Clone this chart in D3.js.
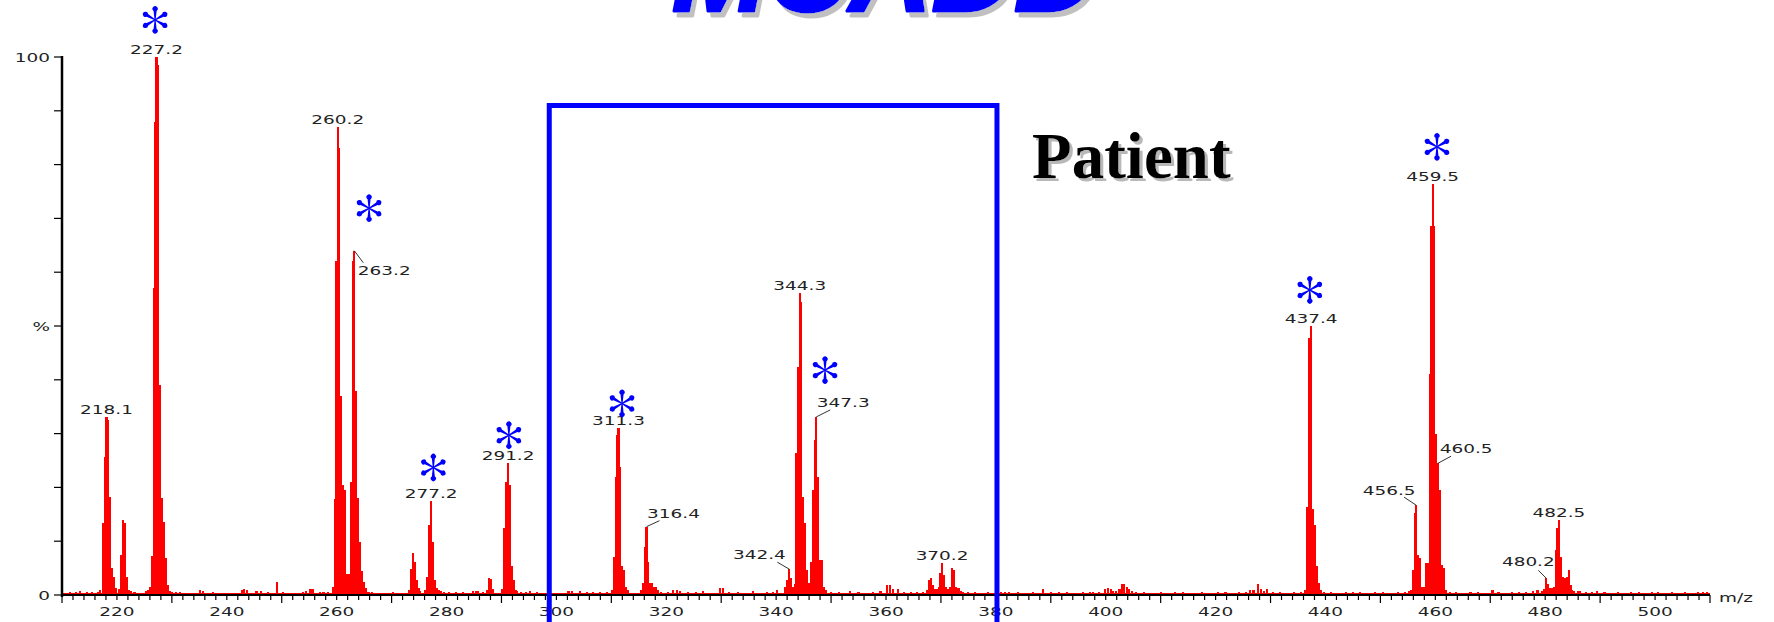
<!DOCTYPE html>
<html>
<head>
<meta charset="utf-8">
<script src="https://cdn.jsdelivr.net/npm/d3@7"></script>
<style>
  html, body { margin: 0; padding: 0; background: #ffffff; }
  svg { display: block; }
</style>
</head>
<body>
<svg id="chart" width="1774" height="622"></svg>
<script>
// ---- Spectrum data: [m/z, relative intensity %] ----
const peak218 = [[217.0,1.0],[217.4,13.4],[217.75,25.7],[218.1,33.0],[218.45,32.5],[218.8,18.3],[219.15,5.0],[219.5,3.4],[219.85,1.3]];
const peak221 = [[220.35,1.2],[220.7,7.4],[221.05,14.0],[221.4,13.4],[221.75,3.4],[222.1,1.0]];
const peak227 = [[225.65,1.0],[226.0,1.5],[226.35,7.2],[226.7,57],[227.0,88],[227.2,100],[227.5,98.5],[227.85,39],[228.2,18],[228.55,13.6],[228.9,6.9],[229.25,1.9],[229.6,0.8]];
const peak260 = [[259.3,1.5],[259.65,17.8],[259.95,62],[260.2,87],[260.5,83],[260.85,37],[261.2,20.4],[261.55,19.5],[261.9,3.9],[262.25,3.9]];
const peak263 = [[262.6,21],[262.9,62],[263.2,64],[263.5,38],[263.85,18],[264.2,9.9],[264.55,4.5],[264.9,2.5],[265.25,1.3]];
const peak274 = [[273.15,1.0],[273.5,4.8],[273.85,7.8],[274.2,6.2],[274.55,2.8],[274.9,1.3],[275.25,0.8]];
const peak277 = [[276.05,1.0],[276.4,3.4],[276.8,13.0],[277.2,17.5],[277.55,9.9],[277.9,2.8],[278.25,1.3],[278.6,1.0],[278.95,0.7]];
const peak288 = [[287.35,1.0],[287.7,3.1],[288.05,3.0],[288.4,1.2]];
const peak291 = [[290.15,1.2],[290.5,12.5],[290.85,21],[291.2,24.6],[291.5,20.4],[291.85,5.3],[292.2,2.8],[292.55,1.0],[292.9,0.8]];
const peak311 = [[310.15,1.0],[310.5,7.1],[310.85,22],[311.1,29.7],[311.3,31],[311.65,23.8],[312.0,5.3],[312.35,4.6],[312.7,1.5],[313.05,1.0]];
const peak316 = [[315.35,1.0],[315.7,2.2],[316.05,9.0],[316.4,12.7],[316.75,6.2],[317.1,2.2],[317.45,2.2],[317.8,1.5],[318.15,1.5],[318.5,1.0]];
const peak344 = [[341.6,1.5],[341.95,2.8],[342.4,4.8],[342.7,3.2],[343.05,1.5],[343.4,2.0],[343.7,26.4],[344.0,42.4],[344.3,56.2],[344.6,54.5],[344.95,18.3],[345.3,13.4],[345.65,4.6],[346.0,2.2]];
const peak347 = [[346.3,6.2],[346.65,19.5],[347.0,28.8],[347.3,33.1],[347.65,22],[348.0,6.5],[348.35,6.5],[348.7,1.5],[349.05,1.0]];
const peak370 = [[367.55,1.0],[367.9,2.8],[368.25,3.2],[368.6,1.8],[368.95,1.2],[369.3,1.2],[369.6,1.4],[369.85,4.1],[370.2,5.9],[370.55,3.7],[370.9,1.5],[371.25,1.2],[371.6,1.5],[371.95,5.0],[372.3,4.6],[372.65,1.5],[373.0,1.3],[373.35,1.3],[373.7,0.8],[374.05,0.6]];
const peak437 = [[436.35,1.0],[436.7,16.4],[437.05,47.7],[437.4,50],[437.75,16],[438.1,13],[438.45,5.3],[438.8,2.2],[439.15,1.0]];
const peak456 = [[455.65,1.0],[456.0,4.6],[456.3,15.2],[456.5,16.7],[456.85,7.4],[457.2,6.9],[457.55,1.5],[457.9,1.5]];
const peak459 = [[458.25,5.9],[458.6,5.9],[458.95,41],[459.2,68.5],[459.5,76.4],[459.8,68.5],[460.15,30],[460.5,24.5],[460.85,19.5],[461.2,5.6],[461.55,5.0],[461.9,1.0]];
const peak482 = [[479.5,0.8],[479.85,1.2],[480.2,3.1],[480.55,2.0],[480.9,1.3],[481.25,1.3],[481.6,1.5],[481.9,8.4],[482.2,12.5],[482.5,14.0],[482.85,7.1],[483.2,3.4],[483.55,3.1],[483.9,3.4],[484.25,4.6],[484.6,1.9],[484.95,1.0],[485.3,0.8]];

// Low-level chemical noise between the ion clusters
const baselineNoise = [
  [211.5,0.5],[212.5,0.6],[213.3,0.8],[214.5,0.5],[215.5,0.5],[216.5,0.6],
  [222.5,0.8],[223.2,0.5],[224.3,0.4],[225.3,0.8],
  [230.0,0.6],[230.8,0.5],[231.5,0.5],[233.0,0.4],[235.1,0.9],[235.6,0.7],[237.5,0.5],[239.0,0.4],[241.0,0.4],
  [242.7,1.0],[243.2,1.2],[243.6,1.0],[245.4,0.7],[246.2,0.8],[247.5,0.5],[249.1,2.4],[250.3,0.6],[252.0,0.4],
  [253.9,0.6],[254.4,0.8],[255.1,1.2],[255.6,1.2],[257.0,0.6],[257.6,0.6],[258.5,0.5],
  [265.8,0.6],[266.4,0.5],[268.0,0.4],[270.3,0.5],[271.8,0.4],
  [279.5,0.6],[280.5,0.5],[281.8,0.5],[283.0,0.6],[284.8,0.8],[285.4,0.8],[285.8,0.7],[286.6,0.6],
  [293.5,0.6],[294.5,0.5],[295.2,0.7],[296.5,0.5],[297.5,0.4],
  [302.2,0.8],[302.9,0.8],[304.3,0.8],[305.5,0.5],[306.6,0.5],[308.0,0.5],[309.2,0.6],
  [319.0,0.6],[320.3,0.5],[321.2,1.0],[321.9,1.0],[322.5,0.8],[324.0,0.5],[325.4,0.5],[326.7,0.8],[328.0,0.4],
  [329.8,1.3],[330.4,1.3],[331.5,0.5],[333.0,0.6],[334.5,0.4],[335.8,0.8],[337.0,0.4],[338.4,0.6],[339.5,0.5],[340.2,1.0],
  [350.0,0.6],[351.5,0.5],[352.4,0.4],[353.5,0.8],[355.0,0.5],[356.3,0.4],[357.6,0.5],[359.0,0.8],
  [360.2,1.8],[360.8,1.8],[361.3,1.2],[362.2,1.2],[363.3,0.5],[364.5,0.6],[365.7,0.5],[366.8,0.6],
  [375.0,0.5],[376.2,0.6],[377.4,0.4],[378.6,0.5],[381.0,0.6],[381.6,0.6],[382.4,0.5],[384.0,0.5],[385.5,0.4],
  [386.8,0.5],[388.6,1.2],[390.0,0.5],[391.5,0.5],[393.0,0.6],[394.5,0.4],[395.8,0.5],[397.2,0.6],[397.7,0.6],
  [398.8,0.6],[399.9,1.2],[400.4,1.3],[400.9,1.2],[401.4,0.8],[401.9,0.8],[402.5,1.2],[402.9,2.0],[403.3,2.0],
  [403.8,1.5],[404.3,1.2],[404.8,0.8],[405.5,0.5],[407.0,0.5],[408.5,0.4],[410.0,0.5],[411.5,0.4],[412.6,0.5],
  [414.1,0.6],[415.5,0.4],[417.5,0.6],[419.0,0.4],[420.4,0.5],[421.8,0.5],[423.0,0.4],[424.3,0.5],[425.5,0.6],
  [426.3,1.0],[426.9,1.0],[427.7,2.0],[428.3,1.2],[428.8,0.8],[429.3,1.2],[430.5,0.6],[431.8,0.5],[433.0,0.4],
  [434.2,0.5],[435.5,0.5],
  [439.8,0.6],[441.0,0.5],[442.3,0.4],[443.8,0.5],[445.0,0.6],[446.3,0.5],[447.8,0.4],[449.0,0.5],[450.5,0.5],
  [452.0,0.4],[453.2,0.5],[454.4,0.6],[455.2,0.7],
  [462.6,0.6],[463.8,0.5],[465.0,0.4],[466.4,0.5],[467.8,0.5],[469.0,0.4],[470.4,1.0],[471.5,0.5],[472.8,0.4],
  [474.0,0.5],[475.3,0.5],[476.5,0.5],[477.8,0.8],[478.6,1.0],
  [486.0,0.7],[486.4,0.8],[487.5,0.5],[488.5,0.5],[489.5,0.7],[490.8,0.5],[492.0,0.4],[493.2,0.5],[494.5,0.4],
  [495.7,0.5],[497.0,0.5],[498.2,0.4],[499.4,0.5],[500.6,0.5],[501.8,0.4],[503.0,0.5],[504.2,0.4],[505.5,0.5],
  [506.6,0.4],[507.8,0.5],[508.8,0.6],[509.5,0.6]
];

// Annotated ions and the acylcarnitines flagged with an asterisk
const peakLabels = [218.1, 227.2, 260.2, 263.2, 277.2, 291.2, 311.3, 316.4, 342.4, 344.3, 347.3, 370.2, 437.4, 456.5, 459.5, 460.5, 480.2, 482.5];
const starMarks = [[226.95,106.9],[265.9,71.9],[277.6,23.7],[291.35,29.7],[311.95,35.6],[348.9,41.8],[437.15,56.7],[460.3,83.3]];

// Axis ticks
const xTickLabels = [220, 240, 260, 280, 300, 320, 340, 360, 380, 400, 420, 440, 460, 480, 500];
const yTickLabels = [[100, "100"], [50, "%"], [0, "0"]];

// Boxed region of the spectrum (m/z range, top as % level)
const highlightRange = [298.7, 380.2];
const highlightTop = 91;

const noiseFloor = 0.3;
const barWidthMz = 0.38;

// ---- Layout ----
const svg = d3.select("#chart");
const x = d3.scaleLinear().domain([210, 510]).range([62, 1710]);
const y = d3.scaleLinear().domain([0, 100]).range([595, 57]);

const spectrum = [].concat(baselineNoise, peak218, peak221, peak227, peak260, peak263, peak274,
  peak277, peak288, peak291, peak311, peak316, peak344, peak347, peak370, peak437, peak456, peak459, peak482);

const textFont = "'DejaVu Sans', sans-serif";
const textColor = "#222";

// Hard-edged grey drop shadows for the headline texts
const defs = svg.append("defs");
function shadowFilter(id, dx, dy, color) {
  const f = defs.append("filter").attr("id", id)
    .attr("x", "-5%").attr("y", "-5%").attr("width", "115%").attr("height", "125%");
  f.append("feFlood").attr("flood-color", color).attr("result", "c");
  f.append("feComposite").attr("in", "c").attr("in2", "SourceAlpha").attr("operator", "in").attr("result", "s");
  f.append("feOffset").attr("in", "s").attr("dx", dx).attr("dy", dy).attr("result", "o");
  const m = f.append("feMerge");
  m.append("feMergeNode").attr("in", "o");
  m.append("feMergeNode").attr("in", "SourceGraphic");
}
shadowFilter("titleShadow", 4, 5, "#c0c0c0");
shadowFilter("captionShadow", 3, 3, "#b8b8b8");

// Horizontally stretched label text, like the instrument's screen font
function wideText(parent, tx, ty, str, anchor) {
  return parent.append("text")
    .attr("transform", `translate(${tx},${ty}) scale(1.42,1)`)
    .attr("text-anchor", anchor || "middle")
    .attr("font-family", textFont)
    .attr("font-size", 13)
    .attr("fill", textColor)
    .text(str);
}

// ---- Title ----
svg.append("text")
  .attr("x", 672).attr("y", 11)
  .attr("font-family", "'Liberation Sans', Arial, sans-serif")
  .attr("font-weight", "bold").attr("font-style", "italic")
  .attr("font-size", 114)
  .attr("fill", "#0000ff").attr("stroke", "#0000ff").attr("stroke-width", 3).attr("stroke-linejoin", "round")
  .attr("filter", "url(#titleShadow)")
  .text("MCADD");

// ---- "Patient" caption ----
svg.append("text")
  .attr("x", 1032).attr("y", 178)
  .attr("font-family", "'Liberation Serif', 'Times New Roman', serif")
  .attr("font-weight", "bold").attr("font-size", 65)
  .attr("fill", "#000")
  .attr("filter", "url(#captionShadow)")
  .text("Patient");

// ---- Spectrum bars ----
const bars = svg.append("g").attr("shape-rendering", "crispEdges");
bars.append("rect")
  .attr("x", x(210)).attr("width", x(510) - x(210))
  .attr("y", y(noiseFloor)).attr("height", y(0) - y(noiseFloor))
  .attr("fill", "#ff0000");
const bw = x(barWidthMz) - x(0);
bars.selectAll("rect.bar")
  .data(spectrum)
  .join("rect")
  .attr("class", "bar")
  .attr("x", d => x(d[0]) - bw / 2)
  .attr("width", bw)
  .attr("y", d => y(d[1]))
  .attr("height", d => y(0) - y(d[1]))
  .attr("fill", "#ff0000");

// ---- Axes ----
const axes = svg.append("g").attr("stroke", "#000");
// y axis
axes.append("line").attr("x1", x(210)).attr("x2", x(210)).attr("y1", y(100) - 1).attr("y2", y(0) + 2).attr("stroke-width", 2.5);
d3.range(0, 101, 10).forEach(v => {
  axes.append("line").attr("x1", x(210) - 8).attr("x2", x(210)).attr("y1", y(v)).attr("y2", y(v)).attr("stroke-width", 1.2);
});
yTickLabels.forEach(([v, t]) => {
  wideText(svg, x(210) - 12, y(v) + 5, t, "end");
});
// x axis
axes.append("line").attr("x1", x(210)).attr("x2", x(510)).attr("y1", y(0)).attr("y2", y(0)).attr("stroke-width", 2);
d3.range(210, 511, 2).forEach(v => {
  const major = (v - 210) % 20 === 0;
  axes.append("line").attr("x1", x(v)).attr("x2", x(v)).attr("y1", y(0)).attr("y2", y(0) + (major ? 8 : 5)).attr("stroke-width", 1.2);
});
xTickLabels.forEach(v => wideText(svg, x(v), 616, String(v), "middle"));
wideText(svg, 1719, 602, "m/z", "start");

// ---- Peak labels (some offset with a leader line) ----
const leaderOffsets = {
  263.2: [30, 24, 9, 12],
  316.4: [27, -9, 13, -6],
  342.4: [-30, -10, -12, -7],
  347.3: [27, -10, 14, -7],
  456.5: [-27, -10, -12, -8],
  460.5: [28, -10, 13, -7],
  480.2: [-18, -12, -8, -8]
};
const lookup = new Map(spectrum.map(d => [d[0], d[1]]));
const labels = svg.append("g");
peakLabels.forEach(m => {
  const px = x(m), py = y(lookup.get(m));
  const off = leaderOffsets[m];
  if (off) {
    labels.append("line")
      .attr("x1", px).attr("y1", py)
      .attr("x2", px + off[2]).attr("y2", py + off[3])
      .attr("stroke", "#333").attr("stroke-width", 1);
    wideText(labels, px + off[0], py + off[1], m.toFixed(1), "middle");
  } else {
    wideText(labels, px, py - 3, m.toFixed(1), "middle");
  }
});

// ---- Asterisks marking the diagnostic ions ----
const petal = "M0,-0.55 L9,-1.5 A2.6,2.6 0 1 1 9,1.5 L0,0.55 Z";
starMarks.forEach(([m, lvl]) => {
  const g = svg.append("g").attr("transform", `translate(${x(m)},${y(lvl)})`);
  [-90, -30, 30, 90, 150, 210].forEach(a => {
    g.append("path").attr("d", petal).attr("transform", `rotate(${a})`).attr("fill", "#0000ff");
  });
});

// ---- Highlight box over the m/z 300-380 window ----
svg.append("path")
  .attr("d", `M${x(highlightRange[0])},${y(-6)} L${x(highlightRange[0])},${y(highlightTop)} L${x(highlightRange[1])},${y(highlightTop)} L${x(highlightRange[1])},${y(-6)}`)
  .attr("fill", "none").attr("stroke", "#0000ff").attr("stroke-width", 5)
  .attr("stroke-linejoin", "miter");
</script>
</body>
</html>
